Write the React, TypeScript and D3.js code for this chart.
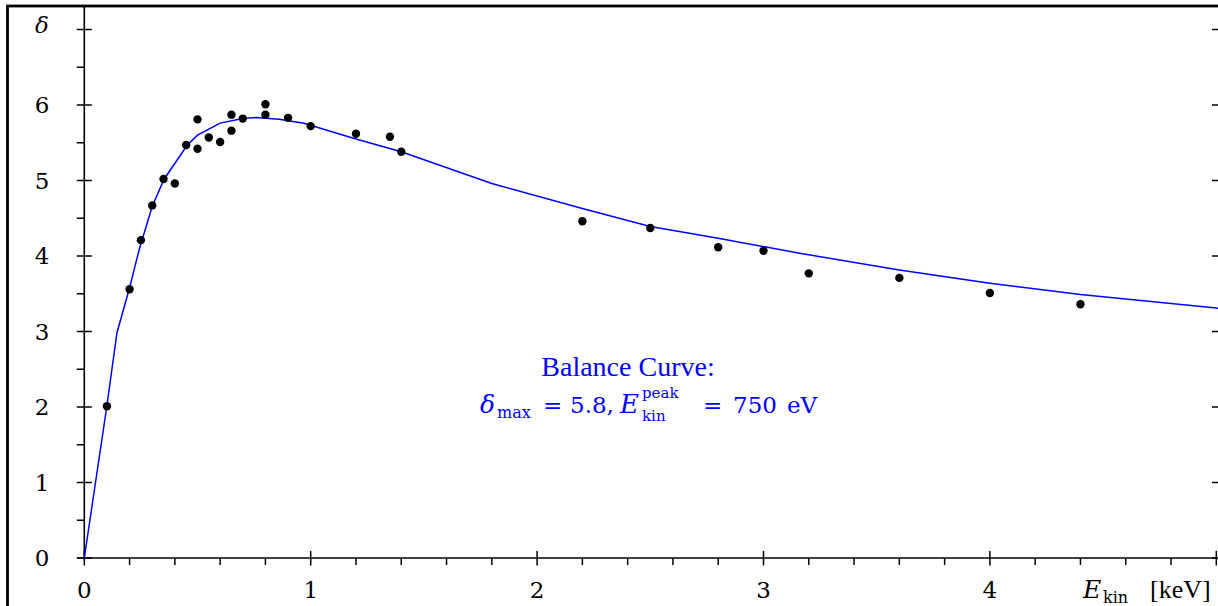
import React from "react";
import * as d3 from "d3";

// Measured data points (E_kin in keV, delta)
const pointE = [0.1, 0.2, 0.25, 0.3, 0.35, 0.4, 0.45, 0.5, 0.5, 0.55, 0.6, 0.65, 0.65, 0.7, 0.8, 0.8, 0.9, 1.0, 1.2, 1.35, 1.4, 2.2, 2.5, 2.8, 3.0, 3.2, 3.6, 4.0, 4.4];
const pointDelta = [2.01, 3.56, 4.21, 4.67, 5.02, 4.96, 5.47, 5.81, 5.42, 5.57, 5.51, 5.87, 5.66, 5.82, 6.01, 5.87, 5.83, 5.72, 5.62, 5.58, 5.38, 4.46, 4.37, 4.115, 4.07, 3.77, 3.71, 3.51, 3.36];

// Balance curve
const curveE = [0, 0.1, 0.144, 0.2, 0.242, 0.3, 0.353, 0.455, 0.5, 0.6, 0.7, 0.76, 0.86, 0.97, 1.2, 1.4, 1.8, 2.2, 2.5, 2.8, 3.16, 3.6, 4.0, 4.4, 5.0, 5.05];
const curveDelta = [0, 2.02, 2.98, 3.58, 4.08, 4.66, 5.02, 5.47, 5.6, 5.76, 5.82, 5.835, 5.81, 5.757, 5.55, 5.38, 4.96, 4.63, 4.39, 4.235, 4.036, 3.815, 3.64, 3.49, 3.31, 3.295];

const xTickLabels = ["0", "1", "2", "3", "4"];
const yTickLabels = ["0", "1", "2", "3", "4", "5", "6"];

const W = 1218;
const H = 606;
const BLUE = "#0000ff";
const NUM_FONT = "'DejaVu Serif', serif";
const TEXT_FONT = "'Liberation Serif', 'Times New Roman', serif";

export default function App() {
  const x = d3.scaleLinear().domain([0, 5]).range([84.3, 84.3 + 5 * 226.4]);
  const y = d3.scaleLinear().domain([0, 7]).range([558, 558 - 7 * 75.5]);

  const curve = curveE.map((e, i) => [e, curveDelta[i]] as [number, number]);
  const line = d3
    .line<[number, number]>()
    .x((d) => x(d[0]))
    .y((d) => y(d[1]));

  const yMinor = d3.range(0, 7.01, 0.5).filter((v) => Math.abs(v - Math.round(v)) > 0.01);
  const yMajor = d3.range(0, 8, 1);
  const xMinor = d3.range(0, 5.01, 0.2).filter((v) => Math.abs(v - Math.round(v)) > 0.01);
  const xMajor = d3.range(0, 6, 1);

  const x0 = x(0);
  const y0 = y(0);

  return (
    <svg
      width={W}
      height={H}
      style={{ position: "absolute", left: 0, top: 0, background: "#fff" }}
    >
      <defs>
        <clipPath id="plot">
          <rect x={x0} y={8} width={W - x0} height={y0 - 8 + 1} />
        </clipPath>
      </defs>
      <rect x={0} y={0} width={W} height={H} fill="#fff" />
      {/* frame */}
      <rect x={7.5} y={6} width={1400} height={800} fill="none" stroke="#000" strokeWidth={2.8} />

      {/* axes lines */}
      <line x1={x0} x2={x0} y1={7} y2={y0} stroke="#000" strokeWidth={1.6} />
      <line x1={x0 - 7} x2={W} y1={y0} y2={y0} stroke="#000" strokeWidth={1.6} />

      {/* y ticks */}
      {yMajor.map((v) => (
        <line key={"ym" + v} x1={x0 - 7.5} x2={x0 + 7.5} y1={y(v)} y2={y(v)} stroke="#000" strokeWidth={1.5} />
      ))}
      {yMinor.map((v) => (
        <line key={"yn" + v} x1={x0 - 7.5} x2={x0} y1={y(v)} y2={y(v)} stroke="#000" strokeWidth={1.5} />
      ))}
      {/* right side ticks */}
      {yMajor.map((v) => (
        <line key={"yr" + v} x1={W - 6} x2={W} y1={y(v)} y2={y(v)} stroke="#000" strokeWidth={1.5} />
      ))}

      {/* x ticks */}
      {xMajor.map((v) => (
        <line key={"xm" + v} x1={x(v)} x2={x(v)} y1={y0 - 7} y2={y0 + 7.5} stroke="#000" strokeWidth={1.5} />
      ))}
      {xMinor.map((v) => (
        <line key={"xn" + v} x1={x(v)} x2={x(v)} y1={y0} y2={y0 + 7} stroke="#000" strokeWidth={1.5} />
      ))}

      {/* y tick labels */}
      {yTickLabels.map((t, i) => (
        <text key={"yl" + t} x={42} y={y(i) + 8} textAnchor="middle" fontFamily={NUM_FONT} fontSize={23} fill="#000">
          {t}
        </text>
      ))}
      {/* x tick labels */}
      {xTickLabels.map((t, i) => (
        <text key={"xl" + t} x={x(i)} y={598} textAnchor="middle" fontFamily={NUM_FONT} fontSize={23} fill="#000">
          {t}
        </text>
      ))}

      {/* axis titles */}
      <text x={42} y={33} textAnchor="middle" fontFamily={NUM_FONT} fontStyle="italic" fontSize={23} fill="#000">
        δ
      </text>
      <text x={1083} y={598} fontFamily={NUM_FONT} fontStyle="italic" fontSize={25} fill="#000">
        E
      </text>
      <text x={1103} y={603} fontFamily={NUM_FONT} fontSize={16} fill="#000">
        kin
      </text>
      <text x={1150} y={598} fontFamily={TEXT_FONT} fontSize={26} fill="#000">
        [keV]
      </text>

      {/* curve */}
      <g clipPath="url(#plot)">
        <path d={line(curve) || ""} fill="none" stroke={BLUE} strokeWidth={1.5} />
      </g>

      {/* points */}
      {pointE.map((e, i) => (
        <circle key={"p" + i} cx={x(e)} cy={y(pointDelta[i])} r={4.2} fill="#000" />
      ))}

      {/* annotation */}
      <text x={628} y={376} textAnchor="middle" fontFamily={TEXT_FONT} fontSize={28} fill={BLUE}>
        Balance Curve:
      </text>
      <g fill={BLUE} fontFamily={NUM_FONT}>
        <text x={480} y={413} fontSize={25} fontStyle="italic">δ</text>
        <text x={497} y={418} fontSize={16}>max</text>
        <text x={543} y={413} fontSize={23}>=</text>
        <text x={570} y={413} fontSize={23}>5.8,</text>
        <text x={620} y={413} fontSize={26} fontStyle="italic">E</text>
        <text x={642} y={398} fontSize={15}>peak</text>
        <text x={642} y={421} fontSize={15}>kin</text>
        <text x={703} y={413} fontSize={23}>=</text>
        <text x={733} y={413} fontSize={23}>750</text>
        <text x={787} y={413} fontSize={23}>eV</text>
      </g>
    </svg>
  );
}
